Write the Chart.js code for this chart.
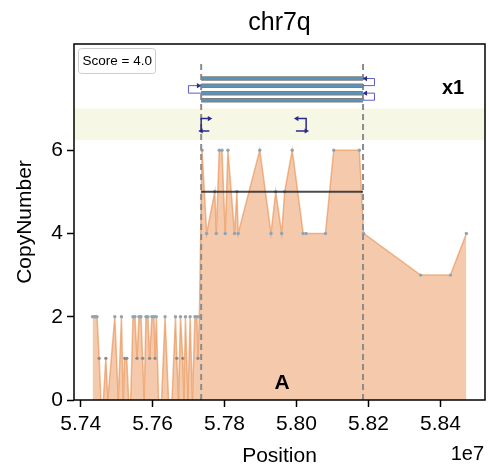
<!DOCTYPE html>
<html>
<head>
<meta charset="utf-8">
<script src="https://cdn.jsdelivr.net/npm/chart.js@4.4.1/dist/chart.umd.min.js"></script>
<style>body{margin:0;background:#fff}</style>
</head>
<body>
<canvas id="cnChart" width="489" height="470"></canvas>
<script>
//copy number along chr7q (position, value)
const cnPos = [57433200, 57437300, 57441500, 57445600, 57451500, 57456200, 57463100, 57470000, 57475500, 57494900,
    57504600, 57513400, 57518400, 57522500, 57528100, 57533600, 57539100, 57545500, 57551000, 57556600,
    57562100, 57567600, 57572300, 57576500, 57581500, 57587000, 57591700, 57598100, 57603600, 57606900,
    57610200, 57616600, 57624900, 57634600, 57644300, 57653900, 57663600, 57667200, 57671900, 57677500,
    57683800, 57687100, 57691300, 57698200, 57704300, 57710700, 57717600, 57723100, 57725900, 57730000,
    57737500, 57750200, 57772900, 57777000, 57785300, 57792800, 57801900, 57809400, 57827700, 57834300,
    57837900, 57897900, 57929200, 57942200, 57958800, 57967100, 57988100, 58018500, 58026800, 58080500,
    58103500, 58174600, 58186500, 58345000, 58428000, 58472200];
const cnVal = [2, 2, 2, 2, 1, 0, 0, 1, 0, 2,
    0, 2, 0, 1, 1, 0, 0, 2, 2, 1,
    2, 2, 1, 0, 2, 2, 1, 2, 2, 1,
    2, 0, 0, 2, 0, 0, 2, 1, 0, 2,
    1, 0, 2, 0, 2, 0, 2, 2, 1, 2,
    6, 4, 5, 4, 6, 6, 4, 6, 4, 5,
    4, 6, 4, 5, 4, 5, 6, 4, 4, 4,
    6, 6, 4, 3, 3, 4];

const xTicks = [57400000, 57600000, 57800000, 58000000, 58200000, 58400000];
const yTicks = [0, 2, 4, 6];

//amplified segment
const segStart = 57735000;
const segEnd = 58185000;
const segLevel = 5;
const dashTop = 8.12;

//read rows above the track
const readRows = [7.72, 7.55, 7.37, 7.2];
const leftLoopX = 57699600, leftLoopTip = 57727200;
const rightLoopX = 58216800, rightLoopTip = 58192000;

//band with split reads
const bandLow = 6.24, bandHigh = 7.0;
const splitTop = 6.76, splitBottom = 6.46;
const splitLeft = [57757700, segStart, segStart, 57757700];
const splitMid = [58001100, 58026800, 58026800, 57998400];

const xMin = 57381500, xMax = 58524000;
const yMax = 8.55;

const fontFamily = '"Liberation Sans", Arial, sans-serif';
const arrowColor = '#2b2b8c';
const loopColor = '#5c5cc8';

function line(points, style) {
    return Object.assign({
        data: points.map(p => ({x: p[0], y: p[1]})),
        pointRadius: 0,
        borderWidth: 1,
        fill: false
    }, style);
}

let datasets = [];

datasets.push(line([[xMin, bandHigh], [xMax, bandHigh]], {
    fill: {value: bandLow}, backgroundColor: '#f7f7e6', borderWidth: 0, order: 20
}));

datasets.push({
    data: cnPos.map((p, i) => ({x: p, y: cnVal[i]})),
    fill: 'origin',
    backgroundColor: 'rgba(236,150,90,0.5)',
    borderColor: 'rgba(232,140,75,0.6)',
    borderWidth: 1.5,
    pointRadius: ctx => (ctx.raw && ctx.raw.y > 0 ? 1.7 : 0),
    pointBackgroundColor: ctx => (ctx.raw && ctx.raw.y == 1 ? '#8c8c8c' : '#8fa5b3'),
    pointBorderWidth: 0,
    order: 15
});

[segStart, segEnd].forEach(x => {
    datasets.push(line([[x, 0], [x, dashTop]], {
        borderColor: '#8c8c8c', borderWidth: 2, borderDash: [6, 4], order: 10
    }));
});

datasets.push(line([[segStart, segLevel], [segEnd, segLevel]], {
    borderColor: 'rgba(30,30,30,0.8)', borderWidth: 2, order: 9
}));

readRows.forEach(r => {
    datasets.push(line([[segStart, r], [segEnd, r]], {borderColor: '#7d7d7d', borderWidth: 4.5, order: 7}));
    datasets.push(line([[segStart, r], [segEnd, r]], {borderColor: '#5a95b8', borderWidth: 2.5, order: 6}));
});

//loops joining the reads, arrow tip on the last point
datasets.push(line([[segStart, readRows[2]], [leftLoopX, readRows[2]], [leftLoopX, readRows[1]], [leftLoopTip, readRows[1]]], {
    borderColor: loopColor, pointRadius: [0, 0, 0, 3], pointStyle: 'triangle', rotation: 90,
    pointBackgroundColor: arrowColor, pointBorderWidth: 0, order: 4
}));
[[readRows[1], readRows[0]], [readRows[3], readRows[2]]].forEach(pair => {
    datasets.push(line([[segEnd, pair[0]], [rightLoopX, pair[0]], [rightLoopX, pair[1]], [rightLoopTip, pair[1]]], {
        borderColor: loopColor, pointRadius: [0, 0, 0, 3], pointStyle: 'triangle', rotation: 270,
        pointBackgroundColor: arrowColor, pointBorderWidth: 0, order: 4
    }));
});

const splitY = [splitTop, splitTop, splitBottom, splitBottom];
datasets.push(line(splitLeft.map((x, i) => [x, splitY[i]]), {
    borderColor: arrowColor, borderWidth: 1.5, pointRadius: [3, 0, 3, 0], pointStyle: 'triangle',
    rotation: [90, 0, 270, 0], pointBackgroundColor: arrowColor, pointBorderWidth: 0, order: 3
}));
datasets.push(line(splitMid.map((x, i) => [x, splitY[i]]), {
    borderColor: arrowColor, borderWidth: 1.5, pointRadius: [3, 0, 3, 0], pointStyle: 'triangle',
    rotation: [270, 0, 90, 0], pointBackgroundColor: arrowColor, pointBorderWidth: 0, order: 3
}));

//texts drawn on top of the plot
const titleText = 'chr7q';
const ampLabel = 'x1', ampLabelAt = [58435300, 7.48];
const segLabel = 'A', segLabelAt = [57959800, 0.41];
const scoreText = 'Score = 4.0';

const annotate = {
    id: 'annotate',
    afterDraw(chart) {
        const {ctx, chartArea: a, scales: {x, y}} = chart;
        ctx.save();
        ctx.fillStyle = '#000';
        ctx.textAlign = 'center';
        ctx.textBaseline = 'middle';

        //title centred over the axes
        ctx.font = '25px ' + fontFamily;
        ctx.fillText(titleText, (a.left + a.right) / 2, 23);

        ctx.font = 'bold 20px ' + fontFamily;
        ctx.fillText(ampLabel, x.getPixelForValue(ampLabelAt[0]), y.getPixelForValue(ampLabelAt[1]));
        ctx.font = 'bold 21px ' + fontFamily;
        ctx.fillText(segLabel, x.getPixelForValue(segLabelAt[0]), y.getPixelForValue(segLabelAt[1]));

        //legend box
        ctx.beginPath();
        ctx.roundRect(a.left + 4.5, a.top + 4.5, 77, 25, 3);
        ctx.fillStyle = '#fff';
        ctx.fill();
        ctx.strokeStyle = '#cccccc';
        ctx.lineWidth = 1;
        ctx.stroke();
        ctx.fillStyle = '#000';
        ctx.textAlign = 'left';
        ctx.font = '13.5px ' + fontFamily;
        ctx.fillText(scoreText, a.left + 8.5, a.top + 17.5);

        //offset text of the x axis
        ctx.textAlign = 'right';
        ctx.font = '20px ' + fontFamily;
        ctx.fillText('1e7', a.right - 1, 454);

        //frame
        ctx.strokeStyle = '#000';
        ctx.lineWidth = 1.5;
        ctx.strokeRect(a.left, a.top, a.right - a.left, a.bottom - a.top);
        ctx.restore();
    }
};

const tickGrid = {display: true, drawOnChartArea: false, drawTicks: true, tickLength: 7, tickWidth: 1.5, tickColor: '#000'};

Chart.defaults.color = '#000';
Chart.defaults.font.family = fontFamily;

new Chart(document.getElementById('cnChart').getContext('2d'), {
    type: 'line',
    data: {datasets: datasets},
    options: {
        responsive: false,
        animation: false,
        devicePixelRatio: 1,
        layout: {padding: {left: 0, right: 2, top: 44, bottom: 0}},
        plugins: {
            legend: {display: false},
            tooltip: {enabled: false},
            title: {display: false}
        },
        scales: {
            x: {
                type: 'linear', min: xMin, max: xMax,
                afterBuildTicks: s => { s.ticks = xTicks.map(v => ({value: v})); },
                afterFit: s => { s.height = 70; },
                ticks: {callback: v => (v / 1e7).toFixed(2), font: {size: 21}, padding: 5, maxRotation: 0},
                grid: tickGrid,
                border: {display: false},
                title: {display: true, text: 'Position', font: {size: 21}, padding: {top: 0, bottom: 1}}
            },
            y: {
                type: 'linear', min: 0, max: yMax,
                afterBuildTicks: s => { s.ticks = yTicks.map(v => ({value: v})); },
                afterFit: s => { s.width = 74; },
                ticks: {font: {size: 21}, padding: 4},
                grid: tickGrid,
                border: {display: false},
                title: {display: true, text: 'CopyNumber', font: {size: 21}, padding: {top: 13, bottom: 0}}
            }
        }
    },
    plugins: [annotate]
});
</script>
</body>
</html>
